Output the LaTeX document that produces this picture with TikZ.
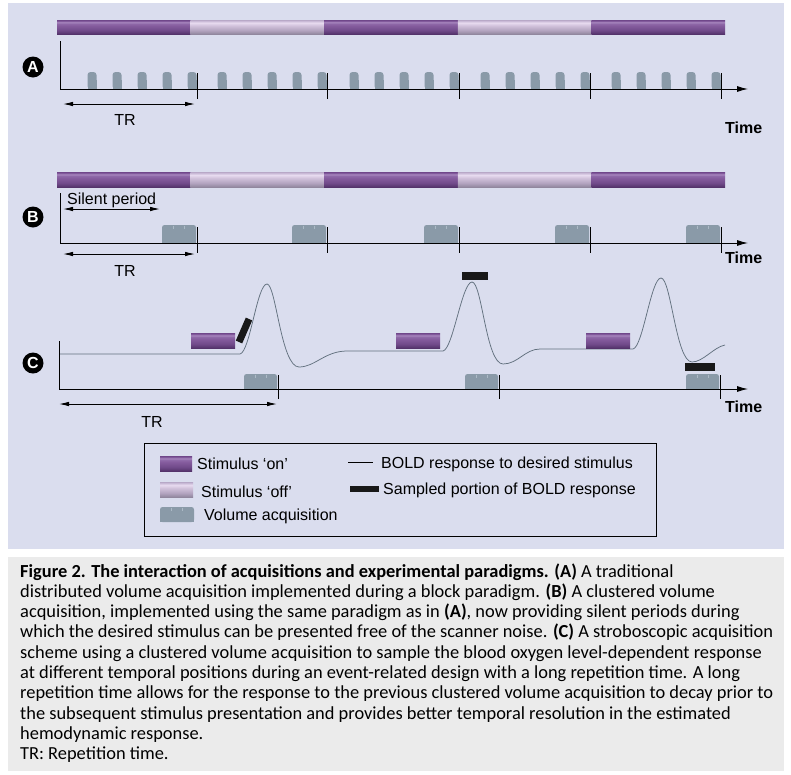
\documentclass[tikz,border=0pt]{standalone}
\usepackage{fontspec}
\setmainfont{Liberation Sans}
\newfontfamily\capfont{Carlito}
\usetikzlibrary{arrows.meta}
\definecolor{bgl}{RGB}{218,221,238}
\definecolor{capbg}{RGB}{235,235,235}
\definecolor{acq}{RGB}{138,154,168}
\definecolor{acqhi}{RGB}{172,186,198}
\definecolor{boldc}{RGB}{98,112,126}
\definecolor{sampc}{RGB}{24,24,24}
\pgfdeclareverticalshading{stimon}{100bp}{
 rgb(0bp)=(0.33,0.20,0.42);
 rgb(25bp)=(0.33,0.20,0.42);
 rgb(38bp)=(0.44,0.29,0.54);
 rgb(55bp)=(0.52,0.36,0.62);
 rgb(62bp)=(0.56,0.41,0.66);
 rgb(67bp)=(0.66,0.53,0.75);
 rgb(71bp)=(0.52,0.36,0.62);
 rgb(75bp)=(0.44,0.28,0.54);
 rgb(100bp)=(0.44,0.28,0.54)}
\pgfdeclareverticalshading{stimoff}{100bp}{
 rgb(0bp)=(0.57,0.53,0.62);
 rgb(25bp)=(0.57,0.53,0.62);
 rgb(38bp)=(0.70,0.64,0.75);
 rgb(55bp)=(0.82,0.76,0.86);
 rgb(65bp)=(0.91,0.86,0.94);
 rgb(71bp)=(0.80,0.74,0.85);
 rgb(75bp)=(0.72,0.66,0.78);
 rgb(100bp)=(0.72,0.66,0.78)}
\begin{document}
\begin{tikzpicture}[x=1pt,y=-1pt,
  axis/.style={line width=0.9pt, black},
  tickmark/.style={line width=0.9pt, black},
  dimarrow/.style={line width=0.9pt, {Latex[length=10pt,width=4.5pt]}-{Latex[length=10pt,width=4.5pt]}},
  axarrow/.style={line width=0.9pt, -{Latex[length=11pt,width=6pt]}},
  lbl/.style={inner sep=0pt, anchor=base, font=\fontsize{16}{19}\selectfont},
  lblw/.style={inner sep=0pt, anchor=base west, font=\fontsize{16}{19}\selectfont},
  timelbl/.style={inner sep=0pt, anchor=base west, font=\bfseries\fontsize{16}{19}\selectfont},
  circlbl/.style={circle, fill=black, text=white, inner sep=0pt, minimum size=21pt, font=\bfseries\fontsize{16}{16}\selectfont},
  capline/.style={anchor=base west, inner sep=0pt, font=\capfont\fontsize{18.4}{20}\selectfont},
  boldcurve/.style={boldc, line width=0.75pt},
  sampbar/.style={fill=sampc},
]
\useasboundingbox (0,0) rectangle (791,774);
\fill[white] (0,0) rectangle (791,774);
\fill[bgl] (8,3) rectangle (784,549);
\fill[capbg] (8,557) rectangle (784,771);

% ---------- stimulus bars A and B
\foreach \i/\s in {0/stimon,1/stimoff,2/stimon,3/stimoff,4/stimon}{
  \pgfmathsetmacro\xa{57+133.6*\i}
  \pgfmathsetmacro\xb{57+133.6*(\i+1)}
  \shade[shading=\s] (\xa,20) rectangle (\xb,34);
  \shade[shading=\s] (\xa,172) rectangle (\xb,187);
}

% ---------- panel A
\foreach \t in {197,327,459,590,721}{
  \foreach \k in {0,...,4}{
    \pgfmathsetmacro\c{\t-5-25*\k}
    \fill[acq, rounded corners=3pt] (\c-4.5,72) rectangle (\c+4.5,89);
    \fill[acq] (\c-4.5,80) rectangle (\c+4.5,89);
  }
}
\coordinate (Atop) at (60,41);
\coordinate (Aorig) at (60,89);
\coordinate (Aend) at (748,89);
\draw[axis] (Atop) -- (Aorig);
\draw[axarrow] (Aorig) -- (Aend);
\foreach \t in {197,327,459,590,721}{
  \draw[tickmark] (\t,73) -- (\t,99);
}
\node[circlbl] (labA) at (33,67) {A};
\coordinate (ATRl) at (63,104);
\coordinate (ATRr) at (195,104);
\draw[dimarrow] (ATRl) -- (ATRr);
\node[lbl] (trA) at (125,125) {TR};
\node[timelbl] (timeA) at (725,133) {Time};

% ---------- panel B
\foreach \t in {197,327,459,590,721}{
  \fill[acq, rounded corners=2.5pt] (\t-35,225) rectangle (\t-1,243);
  \fill[acq] (\t-35,234) rectangle (\t-1,243);
  \draw[acqhi, line width=0.6pt] (\t-24,225.6) -- (\t-24,228.5) (\t-12.5,225.6) -- (\t-12.5,228.5);
}
\coordinate (Btop) at (60,193);
\coordinate (Borig) at (60,243);
\coordinate (Bend) at (748,243);
\draw[axis] (Btop) -- (Borig);
\draw[axarrow] (Borig) -- (Bend);
\foreach \t in {197,327,459,590,721}{
  \draw[tickmark] (\t,227) -- (\t,253);
}
\node[circlbl] (labB) at (33,217) {B};
\node[lblw] (silent) at (67,204) {Silent period};
\coordinate (Sl) at (63,209);
\coordinate (Sr) at (160,209);
\draw[dimarrow] (Sl) -- (Sr);
\coordinate (BTRl) at (63,254);
\coordinate (BTRr) at (195,254);
\draw[dimarrow] (BTRl) -- (BTRr);
\node[lbl] (trB) at (125,276) {TR};
\node[timelbl] (timeB) at (725,263) {Time};

% ---------- panel C
\foreach \t in {278,499,720}{
  \fill[acq, rounded corners=2.5pt] (\t-34,374) rectangle (\t-1,389);
  \fill[acq] (\t-34,381) rectangle (\t-1,389);
  \draw[acqhi, line width=0.6pt] (\t-23,374.6) -- (\t-23,377.5) (\t-12,374.6) -- (\t-12,377.5);
}
\draw[boldcurve] (60,354) -- (240,354)
  .. controls (250,352) and (257,284) .. (267,284)
  .. controls (276,284) and (281,367) .. (299,367)
  .. controls (315,367) and (325,351) .. (347,351)
  -- (443,351)
  .. controls (453,349) and (462,282) .. (472,282)
  .. controls (482,282) and (486,364) .. (503,364)
  .. controls (518,364) and (525,349) .. (540,349)
  -- (633,349)
  .. controls (643,347) and (651,278) .. (661,278)
  .. controls (671,278) and (676,362) .. (692,362)
  .. controls (703,362) and (714,347) .. (725,345);
\shade[shading=stimon] (191,333) rectangle (235,348);
\shade[shading=stimon] (396,333) rectangle (440,348);
\shade[shading=stimon] (586,333) rectangle (630,348);
\fill[sampbar] (235.8,340.6) -- (242.2,343.4) -- (252.2,320.4) -- (245.8,317.6) -- cycle;
\fill[sampbar] (462,272) rectangle (488,280);
\fill[sampbar] (685,363) rectangle (715,371);
\coordinate (Ctop) at (59,341);
\coordinate (Corig) at (59,389);
\coordinate (Cend) at (748,389);
\draw[axis] (Ctop) -- (Corig);
\draw[axarrow] (Corig) -- (Cend);
\foreach \t in {278,499,720}{
  \draw[tickmark] (\t,375) -- (\t,399);
}
\node[circlbl] (labC) at (33,363) {C};
\coordinate (CTRl) at (59,404);
\coordinate (CTRr) at (277,404);
\draw[dimarrow] (CTRl) -- (CTRr);
\node[lbl] (trC) at (152,427) {TR};
\node[timelbl] (timeC) at (725,412) {Time};

% ---------- legend
\draw[black, line width=0.8pt] (144,443) rectangle (656,536);
\shade[shading=stimon] (160,456) rectangle (192,471);
\node[lblw] (legon) at (197,469) {Stimulus ‘on’};
\shade[shading=stimoff] (160,482) rectangle (193,497);
\node[lblw] (legoff) at (201,497) {Stimulus ‘off’};
\fill[acq, rounded corners=2.5pt] (160,507) rectangle (194,522);
\fill[acq] (160,514) rectangle (194,522);
\draw[acqhi, line width=0.6pt] (171,507.6) -- (171,510.5) (182.5,507.6) -- (182.5,510.5);
\node[lblw] (legacq) at (204,520) {Volume acquisition};
\draw[black, line width=0.8pt] (348,462) -- (373,462);
\node[lblw] (legbold) at (381,468) {BOLD response to desired stimulus};
\fill[sampbar] (350,486) rectangle (379,492);
\node[lblw] (legsamp) at (383,494) {Sampled portion of BOLD response};

% ---------- caption
\node[capline] (cap1) at (20,577) {\textbf{Figure 2. The interaction of acquisitions and experimental paradigms. (A)} A traditional};
\node[capline] (cap2) at (20,597.3) {distributed volume acquisition implemented during a block paradigm. \textbf{(B)} A clustered volume};
\node[capline] (cap3) at (20,617.6) {acquisition, implemented using the same paradigm as in \textbf{(A)}, now providing silent periods during};
\node[capline] (cap4) at (20,637.9) {which the desired stimulus can be presented free of the scanner noise. \textbf{(C)} A stroboscopic acquisition};
\node[capline] (cap5) at (20,658.2) {scheme using a clustered volume acquisition to sample the blood oxygen level-dependent response};
\node[capline] (cap6) at (20,678.5) {at different temporal positions during an event-related design with a long repetition time. A long};
\node[capline] (cap7) at (20,698.8) {repetition time allows for the response to the previous clustered volume acquisition to decay prior to};
\node[capline] (cap8) at (20,719.1) {the subsequent stimulus presentation and provides better temporal resolution in the estimated};
\node[capline] (cap9) at (20,739.4) {hemodynamic response.};
\node[capline] (cap10) at (20,759.7) {TR: Repetition time.};
\end{tikzpicture}
\end{document}
